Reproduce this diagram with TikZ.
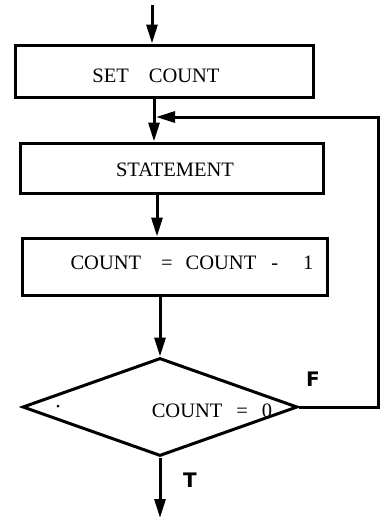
\documentclass[tikz,border=0pt]{standalone}
\usepackage{fontspec}
\setmainfont{Liberation Serif}
\newfontfamily\handfont{DejaVu Sans}
\usetikzlibrary{arrows.meta,shapes.geometric}
\begin{document}
\begin{tikzpicture}[x=1pt,y=-1pt,
  line width=3pt,
  flow/.style={-{Triangle[length=19pt,width=11pt]}},
  procbox/.style={draw, rectangle, inner sep=0pt},
  decbox/.style={draw, diamond, inner sep=0pt},
  lbl/.style={inner sep=0pt, font=\fontsize{20.5}{24}\selectfont},
  hand/.style={inner sep=0pt, font=\handfont\bfseries\fontsize{20}{22}\selectfont}]
\useasboundingbox (0,0) rectangle (384,520);

% process boxes and the decision
\node[procbox, minimum width=298pt, minimum height=52pt] (set) at (164,71) {};
\node[procbox, minimum width=303pt, minimum height=50pt] (stm) at (171.5,168) {};
\node[procbox, minimum width=305pt, minimum height=57pt] (dec1) at (175,266.5) {};
\node[decbox, minimum width=275pt, minimum height=98pt] (test) at (160,407) {};

% box texts
\node[lbl] (tset) at (156,76) {SET\hspace{20pt}COUNT};
\node[lbl] (tstm) at (175,170) {STATEMENT};
\node[lbl] (tdec) at (192,263) {COUNT\hspace{20pt}=\hspace{13pt}COUNT\hspace{15pt}-\hspace{25pt}1};
\node[lbl] (ttest) at (212,411) {COUNT\hspace{14pt}=\hspace{14pt}0};
\fill (58,406) circle (1.5pt);

% branch labels
\node[hand] (lf) at (313,379) {F};
\node[hand] (lt) at (190,480) {T};

% columns of the vertical arrows
\coordinate (in)  at (152,5);
\coordinate (c2)  at (154,0);
\coordinate (c3)  at (157,0);
\coordinate (out) at (160,518);
\coordinate (rx)  at (378,0);
\coordinate (jn)  at (156,117);

% main flow
\draw[flow] (in) -- (set.north -| in);
\draw[flow] (set.south -| c2) -- (stm.north -| c2);
\draw[flow] (stm.south -| c3) -- (dec1.north -| c3);
\draw[flow] (dec1.south -| test.north) -- (test.north);
\draw[flow] (test.south) -- (out);

% loop back on false
\draw[flow] (test.east) -- (test.east -| rx) |- (jn);
\end{tikzpicture}
\end{document}
